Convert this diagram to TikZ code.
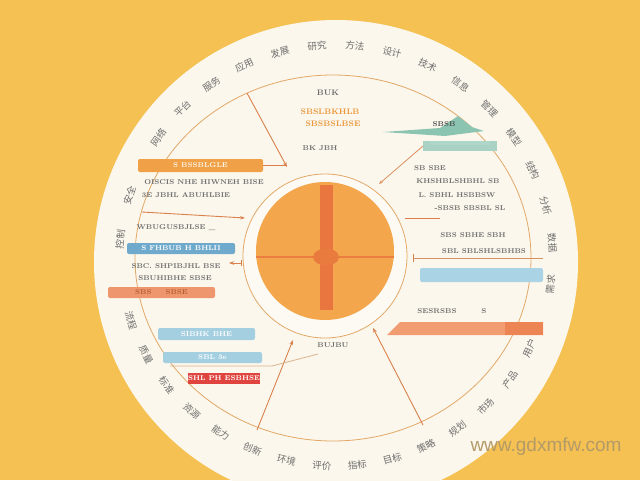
\documentclass[tikz,border=0pt]{standalone}
\usepackage{fontspec}
\newfontfamily\cjk{Noto Sans CJK SC}
\newfontfamily\wmfont{Liberation Sans}
\usetikzlibrary{arrows.meta}
\definecolor{bgy}{HTML}{F4C152}
\definecolor{cream}{HTML}{FCF7EC}
\definecolor{hubfill}{HTML}{FDFAF3}
\definecolor{ringc}{HTML}{E2A868}
\definecolor{diskc}{HTML}{F3A64C}
\definecolor{barc}{HTML}{E8763E}
\definecolor{connc}{HTML}{D9804C}
\definecolor{tanc}{HTML}{D8B48C}
\definecolor{gtc}{HTML}{6E6E6E}
\definecolor{otc}{HTML}{EA963A}
\definecolor{obarA}{HTML}{F0A046}
\definecolor{obarB}{HTML}{EE966E}
\definecolor{obarC}{HTML}{F29C72}
\definecolor{bbarA}{HTML}{6FAACD}
\definecolor{bbarB}{HTML}{A3CFE1}
\definecolor{bbarC}{HTML}{AAD4E6}
\definecolor{redc}{HTML}{E0443F}
\definecolor{tealA}{HTML}{8CC4B2}
\definecolor{tealB}{HTML}{A9D2C5}
\definecolor{wmc}{HTML}{B39A68}
\tikzset{
  gtxt/.style={text=gtc, font=\fontsize{7}{8}\selectfont\bfseries, inner sep=0pt},
  otxt/.style={text=otc, font=\fontsize{8}{9}\selectfont\bfseries, inner sep=0pt},
  olab/.style={text=gtc, font=\cjk\fontsize{9.5}{9.5}\selectfont, inner sep=0pt},
  barbox/.style={rectangle, rounded corners=2pt, inner sep=0pt, font=\fontsize{7}{8}\selectfont\bfseries},
  conn/.style={draw=connc, line width=0.9pt, -{Stealth[length=5pt,width=3.5pt]}},
  thinconn/.style={draw=tanc, line width=0.8pt},
}
\begin{document}
\begin{tikzpicture}[x=1pt,y=-1pt]
\useasboundingbox (0,0) rectangle (640,480);
\fill[bgy] (0,0) rectangle (640,480);
\begin{scope}
\clip (0,0) rectangle (640,480);
\fill[cream] (336,262) circle[radius=242pt];
\end{scope}
\draw[ringc, line width=0.8pt] (333,258) ellipse[x radius=198pt, y radius=183pt];

% outer ring labels
\foreach \a/\t in {5/数据,15/分析,25/结构,35/模型,45/管理,55/信息,65/技术,75/设计,85/方法,95/研究,105/发展,115/应用,125/服务,135/平台,145/网络,162/安全,174/控制}{
  \pgfmathsetmacro\rot{\a-90}
  \path (336,262) ++(-\a:217) node[olab, rotate=\rot] {\t};
}
\foreach \a/\t in {196/流程,206/质量,216/标准,226/资源,236/能力,246/创新,256/环境,266/评价,276/指标,286/目标,296/策略,306/规划,316/市场,326/产品,336/用户,354/需求}{
  \pgfmathsetmacro\rot{\a+90}
  \pgfmathsetmacro\rr{217+13*sin(\a)}
  \path (336,262) ++(-\a:\rr) node[olab, rotate=\rot] {\t};
}

% hub
\node[circle, draw=ringc, line width=0.8pt, fill=hubfill, minimum size=164pt, inner sep=0pt] (hub) at (325,256) {};
\node[circle, fill=diskc, minimum size=138pt, inner sep=0pt] (disk) at (325,251) {};
\draw[barc!85!diskc, line width=2.5pt] (disk.west |- 0,257) -- (disk.east |- 0,257);
\fill[barc] (320,185) rectangle (333,310);
\fill[barc!90!diskc] (326,257) ellipse[x radius=13pt, y radius=8.5pt];

% top texts
\node[gtxt, font=\fontsize{8}{9}\selectfont\bfseries] (t0) at (328,93) {BUK};
\node[otxt] (t1) at (330,112) {SBSLBKHLB};
\node[otxt] (t2) at (333,124) {SBSBSLBSE};
\node[gtxt] (t3) at (320,148) {BK JBH};

% left side
\node[barbox, fill=obarA, text=cream, minimum width=125pt, minimum height=13pt] (ob1) at (200.5,165.5) {S BSSBLGLE};
\node[gtxt] (l1) at (204,182) {OISCIS NHE HIWNEH BISE};
\node[gtxt] (l2) at (186,195) {3E JBHL ABUHLBIE};
\node[gtxt] (l3) at (176,228) {WBUGUSBJLSE \_};
\node[barbox, fill=bbarA, text=white, minimum width=108pt, minimum height=11pt] (bb1) at (181,248.5) {S FHBUB H BHLII};
\node[gtxt] (l4) at (176,266) {SBC. SHPIBJHL BSE};
\node[gtxt] (l5) at (175,278) {SBUHIBHE SBSE};
\node[barbox, fill=obarB, text=barc!80!black, minimum width=107pt, minimum height=11pt] (ob2) at (161.5,292.5) {SBS\hspace{14pt}SBSE};

% lower left
\node[barbox, fill=bbarB, text=white, minimum width=97pt, minimum height=12pt] (lb1) at (206.5,334) {SIBHK BHE};
\node[barbox, fill=bbarB, text=white, minimum width=99pt, minimum height=11pt] (lb2) at (212.5,357.5) {SBL 3e};
\node[barbox, rounded corners=0pt, fill=redc, text=white, minimum width=62pt, minimum height=11pt] (rd) at (224,378) {SHL PH ESBHSE};
\node[gtxt] (m1) at (333,345) {BUJBU};

% right side
\fill[tealA] (383,132) -- (440,128) -- (458,116) -- (472,127) -- (484,131) -- (445,136) -- cycle;
\fill[tealB] (423,141) rectangle (497,151);
\fill[tealA!70!white] (430,141) rectangle (490,145);
\node[gtxt, text=black!70] (tp) at (444,124) {SBSB};
\node[gtxt] (r1) at (430,168) {SB SBE};
\node[gtxt] (r2) at (458,181) {KHSHBLSHBHL SB};
\node[gtxt] (r3) at (457,195) {L. SBHL HSBBSW};
\node[gtxt] (r4) at (470,208) {-SBSB SBSBL SL};
\node[gtxt] (r5) at (473,235) {SBS SBHE SBH};
\node[gtxt] (r6) at (484,251) {SBL SBLSHLSBHBS};
\node[barbox, fill=bbarC, minimum width=123pt, minimum height=14pt] (rb) at (481.5,275) {};
\node[gtxt] (r7) at (437,311) {SESRSBS};
\node[gtxt] (r8) at (484,311) {S};
\fill[obarC] (387,335) -- (400,322) -- (543,322) -- (543,335) -- cycle;
\fill[barc!60!obarC] (505,322) rectangle (543,335);

% connector end points
\coordinate (a1s) at (247,93);
\coordinate (a1e) at (287,167);
\coordinate (a3s) at (142,212);
\coordinate (a3e) at (245,218);
\coordinate (a4s) at (241,263);
\coordinate (a4e) at (229,263);
\coordinate (a5s) at (423,146);
\coordinate (a5e) at (379,184);
\coordinate (a6s) at (405,218);
\coordinate (a6e) at (440,218);
\coordinate (a7s) at (413,258);
\coordinate (a7e) at (543,258);
\coordinate (a8s) at (257,430);
\coordinate (a8e) at (293,340);
\coordinate (a9s) at (423,425);
\coordinate (a9e) at (373,328);
\coordinate (a10s) at (170,366);
\coordinate (a10m) at (272,366);
\coordinate (a10e) at (318,354);

\draw[conn] (a1s) -- (a1e);
\draw[connc, line width=0.8pt] (ob1.east) -- (ob1.east -| a1e);
\draw[conn] (a3s) -- (a3e);
\draw[conn, line width=0.7pt] (a4s) -- (a4e);
\draw[connc, line width=0.7pt] (a4s) ++(0,-3) -- ++(0,6);
\draw[thinconn, -{Stealth[length=4pt,width=3pt]}, draw=connc!70!tanc] (a5s) -- (a5e);
\draw[connc, line width=0.7pt] (a6s) -- (a6e);
\draw[connc!70!tanc, line width=0.8pt] (a7s) -- (a7e);
\draw[connc, line width=0.8pt] (a7s) ++(0,-4) -- ++(0,8);
\draw[conn] (a8s) -- (a8e);
\draw[conn] (a9s) -- (a9e);
\draw[thinconn] (a10s) -- (a10m) -- (a10e);

% watermark
\node[text=wmc, font=\wmfont\fontsize{19}{20}\selectfont, inner sep=0pt] (wm) at (546,447) {www.gdxmfw.com};
\end{tikzpicture}
\end{document}
